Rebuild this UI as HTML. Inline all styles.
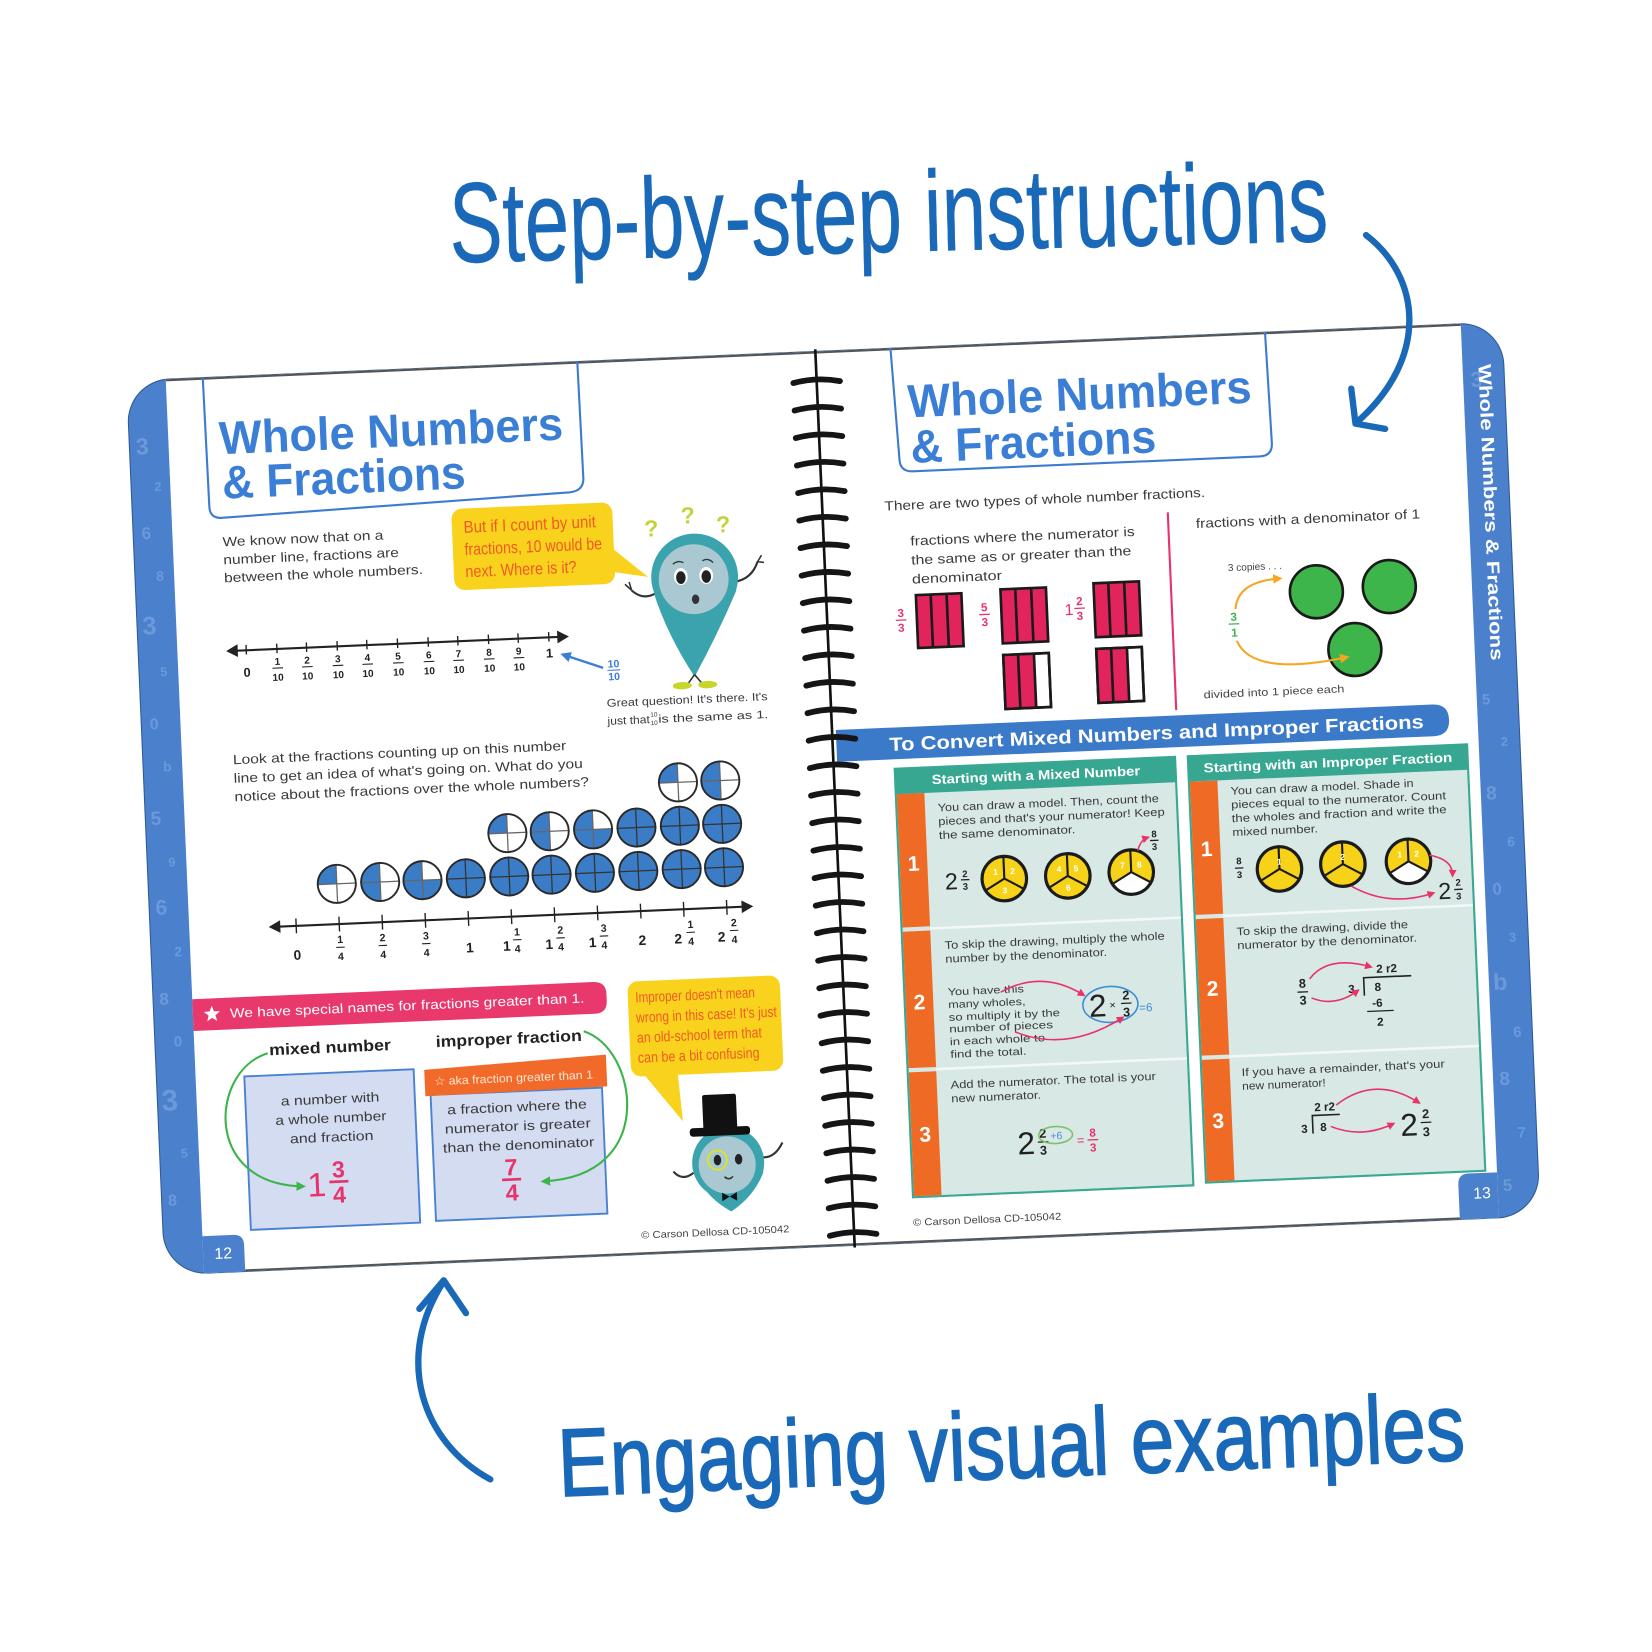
<!DOCTYPE html>
<html><head><meta charset="utf-8">
<style>
html,body{margin:0;padding:0;background:#fff;}
body{width:1652px;height:1652px;overflow:hidden;}
svg{display:block;}
text{font-family:"Liberation Sans",Arial,sans-serif;}
</style></head><body>
<svg width="1652" height="1652" viewBox="0 0 1560 1560" xmlns="http://www.w3.org/2000/svg" xmlns:xlink="http://www.w3.org/1999/xlink">
<defs>
<marker id="ag" viewBox="0 0 10 10" refX="7" refY="5" markerWidth="4.5" markerHeight="4.5" orient="auto"><path d="M0,0 L10,5 L0,10 Z" fill="#3cb44b"/></marker>
<marker id="ap" viewBox="0 0 10 10" refX="7" refY="5" markerWidth="5" markerHeight="5" orient="auto"><path d="M0,0 L10,5 L0,10 Z" fill="#e8336a"/></marker>
<marker id="ao" viewBox="0 0 10 10" refX="7" refY="5" markerWidth="4.5" markerHeight="4.5" orient="auto"><path d="M0,0 L10,5 L0,10 Z" fill="#f5a623"/></marker>
<marker id="ab" viewBox="0 0 10 10" refX="7" refY="5" markerWidth="4.5" markerHeight="4.5" orient="auto"><path d="M0,0 L10,5 L0,10 Z" fill="#3b7ed6"/></marker>
<g id="c1"><circle r="18" fill="#fff"/><path d="M0,0 L-18,0 A18,18 0 0 1 0,-18 Z" fill="#3b7cc6"/><path d="M-18,0H18M0,-18V18" stroke="#666" stroke-width="1.2"/><circle r="18" fill="none" stroke="#2a2a2a" stroke-width="1.8"/></g>
<g id="c2"><circle r="18" fill="#fff"/><path d="M0,-18 A18,18 0 0 0 0,18 Z" fill="#3b7cc6"/><path d="M-18,0H18M0,-18V18" stroke="#666" stroke-width="1.2"/><circle r="18" fill="none" stroke="#2a2a2a" stroke-width="1.8"/></g>
<g id="c3"><circle r="18" fill="#fff"/><path d="M0,0 L0,-18 A18,18 0 1 0 18,0 Z" fill="#3b7cc6"/><path d="M-18,0H18M0,-18V18" stroke="#666" stroke-width="1.2"/><circle r="18" fill="none" stroke="#2a2a2a" stroke-width="1.8"/></g>
<g id="c4"><circle r="18" fill="#3b7cc6"/><path d="M-18,0H18M0,-18V18" stroke="#333" stroke-width="1.2"/><circle r="18" fill="none" stroke="#2a2a2a" stroke-width="1.8"/></g>
<g id="y3"><circle r="21" fill="#f6d318"/><path d="M0,0V-21M0,0L-18.2,10.5M0,0L18.2,10.5" stroke="#1b1b1b" stroke-width="2"/><circle r="21" fill="none" stroke="#1b1b1b" stroke-width="3"/></g>
<g id="y2"><circle r="21" fill="#f6d318"/><path d="M0,0 L18.2,10.5 A21,21 0 0 1 -18.2,10.5Z" fill="#fff"/><path d="M0,0V-21M0,0L-18.2,10.5M0,0L18.2,10.5" stroke="#1b1b1b" stroke-width="2"/><circle r="21" fill="none" stroke="#1b1b1b" stroke-width="3"/></g>
<path id="coil" d="M-22,2 Q0,-3 22,2" fill="none" stroke="#151515" stroke-width="5.5" stroke-linecap="round"/>
</defs>

<!-- annotations text -->
<text x="425" y="248" font-size="108" fill="#1a68b8" stroke="#1a68b8" stroke-width="0.4" textLength="830" lengthAdjust="spacingAndGlyphs" transform="rotate(-1.4 425 248)">Step-by-step instructions</text>
<text x="528" y="1413" font-size="91" fill="#1a68b8" stroke="#1a68b8" stroke-width="1.4" textLength="857" lengthAdjust="spacingAndGlyphs" transform="rotate(-2.3 528 1413)">Engaging visual examples</text>

<!-- BOOK -->
<g transform="translate(137,331.5) rotate(-2.45 650 422.5)">
<rect x="0" y="0" width="1300" height="845" rx="40" fill="#4a80cc" stroke="#2f5a93" stroke-width="1"/>
<g fill="#86aee6" opacity="0.55" font-weight="bold">
<text x="6" y="70" font-size="22">3</text><text x="22" y="105" font-size="12">2</text><text x="8" y="150" font-size="16">6</text><text x="20" y="190" font-size="13">8</text><text x="5" y="240" font-size="24">3</text><text x="20" y="280" font-size="12">5</text><text x="8" y="330" font-size="15">0</text><text x="19" y="370" font-size="13">b</text><text x="5" y="420" font-size="18">5</text><text x="20" y="460" font-size="12">9</text><text x="6" y="505" font-size="20">6</text><text x="22" y="545" font-size="13">2</text><text x="6" y="590" font-size="16">8</text><text x="18" y="630" font-size="14">0</text><text x="4" y="690" font-size="28">3</text><text x="20" y="735" font-size="12">5</text><text x="6" y="780" font-size="15">8</text>
<text x="1268" y="60" font-size="20">3</text><text x="1266" y="360" font-size="14">5</text><text x="1282" y="400" font-size="12">2</text><text x="1266" y="450" font-size="18">8</text><text x="1284" y="495" font-size="13">6</text><text x="1268" y="540" font-size="16">0</text><text x="1282" y="585" font-size="12">3</text><text x="1265" y="630" font-size="22">b</text><text x="1282" y="675" font-size="14">6</text><text x="1267" y="720" font-size="18">8</text><text x="1282" y="770" font-size="14">7</text><text x="1266" y="820" font-size="16">5</text>
</g>
<rect x="37" y="0" width="1224" height="845" fill="#fff"/>
<path d="M37,810 H66 Q76,810 76,820 V845 H37Z" fill="#4a80cc"/>
<path d="M1261,802 H1234 Q1224,802 1224,812 V845 H1261Z" fill="#4a80cc"/>
<line x1="37" y1="1" x2="1261" y2="1" stroke="#555" stroke-width="2"/>
<line x1="76" y1="844" x2="1224" y2="844" stroke="#555" stroke-width="2"/>
<text x="56" y="832" font-size="15" fill="#fff" text-anchor="middle">12</text>
<text x="1246" y="826" font-size="15" fill="#fff" text-anchor="middle">13</text>
<text transform="translate(1276,39) rotate(90)" font-size="17" font-weight="bold" fill="#fff" textLength="280" lengthAdjust="spacingAndGlyphs">Whole Numbers &amp; Fractions</text>

<!-- LEFT PAGE -->
<path d="M72,0 L73,122 Q73,134 86,133 L414,123 Q427,122 427,110 L426,0" fill="none" stroke="#3d7bd3" stroke-width="2"/>
<g font-weight="bold" fill="#3b7ed6" font-size="44">
<text x="85" y="73" textLength="325" lengthAdjust="spacingAndGlyphs">Whole Numbers</text>
<text x="86" y="115" textLength="230" lengthAdjust="spacingAndGlyphs">&amp; Fractions</text>
</g>
<g font-size="12.5" fill="#3a3a3a">
<text x="84" y="160" textLength="152" lengthAdjust="spacingAndGlyphs">We know now that on a</text>
<text x="84" y="177" textLength="166" lengthAdjust="spacingAndGlyphs">number line, fractions are</text>
<text x="84" y="194" textLength="188" lengthAdjust="spacingAndGlyphs">between the whole numbers.</text>
</g>
<!-- bubble 1 -->
<rect x="301" y="134" width="152" height="77" rx="10" fill="#f8d21c"/>
<polygon points="452,178 452,200 484,206" fill="#f8d21c"/>
<g font-size="16" fill="#f15a24">
<text x="312" y="157" textLength="125" lengthAdjust="spacingAndGlyphs">But if I count by unit</text>
<text x="312" y="178" textLength="130" lengthAdjust="spacingAndGlyphs">fractions, 10 would be</text>
<text x="312" y="199" textLength="105" lengthAdjust="spacingAndGlyphs">next. Where is it?</text>
</g>
<!-- character 1 -->
<g>
<path d="M468,218 Q478,228 490,222" fill="none" stroke="#333" stroke-width="2"/>
<path d="M462,212 L468,218 M466,210 L468,218" stroke="#333" stroke-width="1.5"/>
<path d="M566,214 Q582,212 588,196" fill="none" stroke="#333" stroke-width="2"/>
<path d="M588,196 L592,190 M588,196 L594,197" stroke="#333" stroke-width="1.5"/>
<path d="M489,222 Q500,262 524,302 Q548,262 567,222 Z" fill="#3aa3ae"/>
<circle cx="528" cy="208" r="41" fill="#3aa3ae"/>
<circle cx="527" cy="210" r="33" fill="#a9c8d1"/>
<ellipse cx="515" cy="207" rx="6.5" ry="8" fill="#fff"/><ellipse cx="515" cy="208" rx="4.5" ry="6" fill="#222"/>
<ellipse cx="539" cy="207" rx="6.5" ry="8" fill="#fff"/><ellipse cx="539" cy="208" rx="4.5" ry="6" fill="#222"/>
<path d="M508,195 Q513,191 518,194 M536,193 Q541,190 546,195" fill="none" stroke="#333" stroke-width="1.3"/>
<ellipse cx="528" cy="229" rx="3.5" ry="4.5" fill="#333"/>
<path d="M524,300 L517,309 M524,300 L531,309" stroke="#333" stroke-width="1.5"/>
<ellipse cx="512" cy="310" rx="9" ry="3.5" fill="#c8d62a"/><ellipse cx="536" cy="310" rx="9" ry="3.5" fill="#c8d62a"/>
<g font-size="22" font-weight="bold" fill="#c5d33a" text-anchor="middle">
<text x="489" y="168">?</text><text x="524" y="157">?</text><text x="557" y="167">?</text>
</g>
</g>
<!-- number line 1 -->
<g stroke="#222" stroke-width="2">
<line x1="88" y1="259" x2="400" y2="259"/>
<path d="M102,254V263M131,254V263M159,254V263M188,254V263M216,254V263M245,254V263M274,254V263M302,254V263M331,254V263M359,254V263M388,254V263" stroke-width="1.3"/>
</g>
<polygon points="83,259 94,253 94,265" fill="#222"/><polygon points="407,259 396,253 396,265" fill="#222"/>
<g font-size="9.5" font-weight="bold" fill="#222" text-anchor="middle">
<text x="102" y="284" font-size="12">0</text>
<text x="131" y="274">1</text><text x="159" y="274">2</text><text x="188" y="274">3</text><text x="216" y="274">4</text><text x="245" y="274">5</text><text x="274" y="274">6</text><text x="302" y="274">7</text><text x="331" y="274">8</text><text x="359" y="274">9</text>
<text x="131" y="289">10</text><text x="159" y="289">10</text><text x="188" y="289">10</text><text x="216" y="289">10</text><text x="245" y="289">10</text><text x="274" y="289">10</text><text x="302" y="289">10</text><text x="331" y="289">10</text><text x="359" y="289">10</text>
<text x="388" y="278" font-size="12">1</text>
</g>
<path d="M126,277H136M154,277H164M183,277H193M211,277H221M240,277H250M269,277H279M297,277H307M326,277H336M354,277H364" stroke="#222" stroke-width="1"/>
<line x1="438" y1="290" x2="401" y2="276" stroke="#3b7ed6" stroke-width="2.2" marker-end="url(#ab)"/>
<g font-size="10" font-weight="bold" fill="#3b7ed6" text-anchor="middle">
<text x="448" y="290">10</text><text x="448" y="302">10</text>
</g>
<line x1="442" y1="292.5" x2="454" y2="292.5" stroke="#3b7ed6" stroke-width="1"/>
<g font-size="10.5" fill="#3a3a3a">
<text x="440" y="327" textLength="152" lengthAdjust="spacingAndGlyphs">Great question! It's there. It's</text>
<text x="440" y="344" textLength="40" lengthAdjust="spacingAndGlyphs">just that</text>
<text x="488" y="344" textLength="104" lengthAdjust="spacingAndGlyphs">is the same as 1.</text>
<text x="484" y="338" font-size="6" text-anchor="middle">10</text><text x="484" y="346" font-size="6" text-anchor="middle">10</text>
</g>
<!-- paragraph 2 -->
<g font-size="12.5" fill="#3a3a3a">
<text x="85" y="366" textLength="315" lengthAdjust="spacingAndGlyphs">Look at the fractions counting up on this number</text>
<text x="85" y="383.5" textLength="330" lengthAdjust="spacingAndGlyphs">line to get an idea of what's going on. What do you</text>
<text x="85" y="401" textLength="335" lengthAdjust="spacingAndGlyphs">notice about the fractions over the whole numbers?</text>
</g>
<!-- circles -->
<use xlink:href="#c1" x="178" y="483"/><use xlink:href="#c2" x="219" y="483"/><use xlink:href="#c3" x="259" y="483"/><use xlink:href="#c4" x="300" y="483"/><use xlink:href="#c4" x="341" y="483"/><use xlink:href="#c4" x="381" y="483"/><use xlink:href="#c4" x="422" y="483"/><use xlink:href="#c4" x="463" y="483"/><use xlink:href="#c4" x="504" y="483"/><use xlink:href="#c4" x="544" y="483"/>
<use xlink:href="#c1" x="341" y="442"/><use xlink:href="#c2" x="381" y="442"/><use xlink:href="#c3" x="422" y="442"/><use xlink:href="#c4" x="463" y="442"/><use xlink:href="#c4" x="504" y="442"/><use xlink:href="#c4" x="544" y="442"/>
<use xlink:href="#c1" x="504" y="401"/><use xlink:href="#c2" x="544" y="401"/>
<!-- number line 2 -->
<line x1="118" y1="521" x2="564" y2="521" stroke="#222" stroke-width="2"/>
<polygon points="112,521 123,515 123,527" fill="#222"/><polygon points="570,521 559,515 559,527" fill="#222"/>
<path d="M138,514V528M178.7,514V528M219.4,514V528M260.1,514V528M300.8,514V528M341.5,514V528M382.2,514V528M422.9,514V528M463.6,514V528M504.3,514V528M545,514V528" stroke="#222" stroke-width="1.3"/>
<g font-weight="bold" fill="#222" text-anchor="middle">
<g font-size="13"><text x="138" y="553">0</text><text x="301" y="553">1</text><text x="336" y="553">1</text><text x="376" y="553">1</text><text x="417" y="553">1</text><text x="464" y="553">2</text><text x="498" y="553">2</text><text x="539" y="553">2</text></g>
<g font-size="10"><text x="179" y="539">1</text><text x="219" y="539">2</text><text x="260" y="539">3</text><text x="346" y="539">1</text><text x="387" y="539">2</text><text x="428" y="539">3</text><text x="510" y="539">1</text><text x="551" y="539">2</text>
<text x="179" y="555">4</text><text x="219" y="555">4</text><text x="260" y="555">4</text><text x="346" y="555">4</text><text x="387" y="555">4</text><text x="428" y="555">4</text><text x="510" y="555">4</text><text x="551" y="555">4</text></g>
</g>
<path d="M175,543H183M215,543H223M256,543H264M342,543H350M383,543H391M424,543H432M506,543H514M547,543H555" stroke="#222" stroke-width="1"/>
<!-- pink banner -->
<path d="M37,586 H416 Q428,586 428,598 V604 Q428,616 416,616 H37Z" fill="#e8386c"/>
<polygon points="55,593 57,598.2 62.6,598.5 58.2,602.1 59.7,607.5 55,604.4 50.3,607.5 51.8,602.1 47.4,598.5 53,598.2" fill="#fff"/>
<text x="72" y="605" font-size="12.5" fill="#fff" textLength="335" lengthAdjust="spacingAndGlyphs">We have special names for fractions greater than 1.</text>
<g font-size="15" font-weight="bold" fill="#222" text-anchor="middle">
<text x="165" y="642" textLength="115" lengthAdjust="spacingAndGlyphs">mixed number</text>
<text x="334" y="641" textLength="138" lengthAdjust="spacingAndGlyphs">improper fraction</text>
</g>
<!-- boxes -->
<rect x="83" y="661" width="160" height="145" fill="#d4dcf2" stroke="#4a82d2" stroke-width="1.8"/>
<rect x="258" y="686" width="162" height="119" fill="#d4dcf2" stroke="#4a82d2" stroke-width="1.8"/>
<polygon points="253,662 425,655 425,685 253,687" fill="#f26a2a"/>
<text x="262" y="677" font-size="11" fill="#ffe6d6" textLength="150" lengthAdjust="spacingAndGlyphs">☆ aka fraction greater than 1</text>
<g font-size="12.5" fill="#3a3a3a" text-anchor="middle">
<text x="163" y="690" textLength="93" lengthAdjust="spacingAndGlyphs">a number with</text>
<text x="163" y="708" textLength="105" lengthAdjust="spacingAndGlyphs">a whole number</text>
<text x="163" y="726" textLength="79" lengthAdjust="spacingAndGlyphs">and fraction</text>
<text x="339" y="705" textLength="132" lengthAdjust="spacingAndGlyphs">a fraction where the</text>
<text x="339" y="723" textLength="138" lengthAdjust="spacingAndGlyphs">numerator is greater</text>
<text x="339" y="741" textLength="143" lengthAdjust="spacingAndGlyphs">than the denominator</text>
</g>
<g fill="#e8336a" text-anchor="middle">
<text x="147" y="777" font-size="32">1</text>
<text x="168" y="760" font-size="22" font-weight="bold">3</text><text x="168" y="784" font-size="22" font-weight="bold">4</text>
<text x="331" y="765" font-size="22" font-weight="bold">7</text><text x="331" y="789" font-size="22" font-weight="bold">4</text>
</g>
<path d="M159,764H177M322,769H340" stroke="#e8336a" stroke-width="2.5"/>
<path d="M106,640 C50,655 40,762 134,767" fill="none" stroke="#3cb44b" stroke-width="2" marker-end="url(#ag)"/>
<path d="M405,632 C455,650 470,772 361,772" fill="none" stroke="#3cb44b" stroke-width="2" marker-end="url(#ag)"/>
<!-- bubble 2 -->
<rect x="448" y="587" width="144" height="90" rx="10" fill="#f8d21c"/>
<polygon points="460,675 492,675 495,721" fill="#f8d21c"/>
<g font-size="14" fill="#f15a24">
<text x="455" y="607" textLength="113" lengthAdjust="spacingAndGlyphs">Improper doesn't mean</text>
<text x="455" y="626" textLength="133" lengthAdjust="spacingAndGlyphs">wrong in this case! It's just</text>
<text x="455" y="645" textLength="118" lengthAdjust="spacingAndGlyphs">an old-school term that</text>
<text x="455" y="664" textLength="115" lengthAdjust="spacingAndGlyphs">can be a bit confusing</text>
</g>
<!-- character 2 -->
<g>
<path d="M503,770 Q492,778 484,768" fill="none" stroke="#333" stroke-width="2"/>
<path d="M568,758 Q580,760 588,745" fill="none" stroke="#333" stroke-width="2"/>
<path d="M505,772 Q515,795 537,808 Q559,795 569,772 Z" fill="#3aa3ae"/>
<circle cx="536" cy="762" r="34" fill="#3aa3ae"/>
<circle cx="535" cy="764" r="27" fill="#a9c8d1"/>
<circle cx="526" cy="759" r="9" fill="none" stroke="#d8e03a" stroke-width="2"/>
<ellipse cx="526" cy="759" rx="3.5" ry="5" fill="#222"/><ellipse cx="546" cy="759" rx="3.5" ry="5" fill="#222"/>
<path d="M532,775 Q536,779 540,775" fill="none" stroke="#333" stroke-width="1.5"/>
<path d="M529,790 L536,794 L529,798Z M543,790 L536,794 L543,798Z" fill="#111"/>
<rect x="514" y="697" width="32" height="34" rx="2" fill="#111"/>
<rect x="501" y="728" width="57" height="8" rx="3" fill="#111"/>
</g>
<text x="521" y="830" font-size="9.5" fill="#444" text-anchor="middle" textLength="140" lengthAdjust="spacingAndGlyphs">© Carson Dellosa CD-105042</text>

<!-- RIGHT PAGE -->
<path d="M722,0 L726,105 Q726,117 738,117 L1066,117 Q1078,117 1078,105 L1076,0" fill="none" stroke="#3d7bd3" stroke-width="2"/>
<g font-weight="bold" fill="#3b7ed6" font-size="44">
<text x="736" y="66" textLength="325" lengthAdjust="spacingAndGlyphs">Whole Numbers</text>
<text x="737" y="109" textLength="232" lengthAdjust="spacingAndGlyphs">&amp; Fractions</text>
</g>
<g font-size="12.5" fill="#3a3a3a">
<text x="710" y="153" textLength="303" lengthAdjust="spacingAndGlyphs">There are two types of whole number fractions.</text>
<text x="733" y="187" textLength="212" lengthAdjust="spacingAndGlyphs">fractions where the numerator is</text>
<text x="733" y="205" textLength="208" lengthAdjust="spacingAndGlyphs">the same as or greater than the</text>
<text x="733" y="223" textLength="85" lengthAdjust="spacingAndGlyphs">denominator</text>
<text x="1003" y="182" textLength="212" lengthAdjust="spacingAndGlyphs">fractions with a denominator of 1</text>
</g>
<line x1="977" y1="166" x2="977" y2="353" stroke="#e8336a" stroke-width="2"/>
<!-- bar models -->
<g stroke="#1a1a1a" stroke-width="2.5">
<rect x="736" y="234" width="43" height="50" fill="#e2245d"/>
<rect x="816" y="232" width="43" height="51" fill="#e2245d"/>
<rect x="816" y="294" width="43" height="51" fill="#fff"/>
<rect x="817" y="295" width="28" height="49" fill="#e2245d" stroke="none"/>
<rect x="816" y="294" width="43" height="51" fill="none"/>
<rect x="904" y="230" width="43" height="51" fill="#e2245d"/>
<rect x="904" y="292" width="43" height="51" fill="#fff"/>
<rect x="905" y="293" width="28" height="49" fill="#e2245d" stroke="none"/>
<rect x="904" y="292" width="43" height="51" fill="none"/>
<path d="M750,234V284M765,234V284M830,232V283M845,232V283M830,294V345M845,294V345M918,230V281M933,230V281M918,292V343M933,292V343"/>
</g>
<g fill="#e8336a" font-weight="bold" font-size="11" text-anchor="middle">
<text x="721" y="254">3</text><text x="721" y="268">3</text>
<text x="800" y="252">5</text><text x="800" y="266">3</text>
<text x="880" y="259" font-size="15" font-weight="normal">1</text>
<text x="890" y="250">2</text><text x="890" y="264">3</text>
</g>
<path d="M716,257H726M795,255H805M885,253H895" stroke="#e8336a" stroke-width="1.2"/>
<!-- green circles -->
<g fill="#3db54a" stroke="#1a1a1a" stroke-width="2.5">
<circle cx="1114" cy="247" r="25"/><circle cx="1183" cy="245" r="25"/><circle cx="1148" cy="303" r="25"/>
</g>
<text x="1057" y="224" font-size="9.5" fill="#444" text-anchor="middle">3 copies . . .</text>
<g fill="#3cb44b" font-weight="bold" font-size="11" text-anchor="middle"><text x="1035" y="271">3</text><text x="1035" y="286">1</text></g>
<line x1="1030" y1="274" x2="1040" y2="274" stroke="#3cb44b" stroke-width="1.2"/>
<path d="M1037,260 Q1040,234 1080,233" fill="none" stroke="#f5a623" stroke-width="2" marker-end="url(#ao)"/>
<path d="M1037,290 Q1050,325 1140,310" fill="none" stroke="#f5a623" stroke-width="2" marker-end="url(#ao)"/>
<text x="1070" y="343" font-size="10" fill="#444" text-anchor="middle" textLength="133" lengthAdjust="spacingAndGlyphs">divided into 1 piece each</text>
<!-- blue banner -->
<path d="M655,358 H1219 Q1234,358 1234,373 Q1234,388 1219,388 H655Z" fill="#3b79c9"/>
<text x="705" y="380" font-size="18" font-weight="bold" fill="#fff" textLength="505" lengthAdjust="spacingAndGlyphs">To Convert Mixed Numbers and Improper Fractions</text>
<!-- panels -->
<g>
<rect x="709" y="397" width="265" height="405" fill="#d7e8e5" stroke="#3aa893" stroke-width="2"/>
<rect x="709" y="397" width="265" height="24" fill="#37a791"/>
<rect x="710" y="421" width="26" height="126" fill="#ef6a24"/>
<rect x="710" y="551" width="26" height="129" fill="#ef6a24"/>
<rect x="710" y="684" width="26" height="117" fill="#ef6a24"/>
<path d="M736,549H973M736,682H973" stroke="#f2f8f7" stroke-width="2.5"/>
<rect x="986" y="397" width="264" height="403" fill="#d7e8e5" stroke="#3aa893" stroke-width="2"/>
<rect x="986" y="397" width="264" height="24" fill="#37a791"/>
<rect x="987" y="421" width="26" height="126" fill="#ef6a24"/>
<rect x="987" y="551" width="26" height="129" fill="#ef6a24"/>
<rect x="987" y="684" width="26" height="115" fill="#ef6a24"/>
<path d="M1013,549H1249M1013,682H1249" stroke="#f2f8f7" stroke-width="2.5"/>
</g>
<g font-weight="bold" fill="#fff" text-anchor="middle">
<text x="842" y="413" font-size="12.5" textLength="197" lengthAdjust="spacingAndGlyphs">Starting with a Mixed Number</text>
<text x="1118" y="413" font-size="12.5" textLength="235" lengthAdjust="spacingAndGlyphs">Starting with an Improper Fraction</text>
<g font-size="20"><text x="723" y="494">1</text><text x="723" y="625">2</text><text x="723" y="750">3</text><text x="1000" y="492">1</text><text x="1000" y="624">2</text><text x="1000" y="749">3</text></g>
</g>
<g font-size="10.5" fill="#3a3a3a">
<text x="748" y="439" textLength="209" lengthAdjust="spacingAndGlyphs">You can draw a model. Then, count the</text>
<text x="748" y="452" textLength="214" lengthAdjust="spacingAndGlyphs">pieces and that's your numerator! Keep</text>
<text x="748" y="465" textLength="129" lengthAdjust="spacingAndGlyphs">the same denominator.</text>
<text x="749" y="569" textLength="208" lengthAdjust="spacingAndGlyphs">To skip the drawing, multiply the whole</text>
<text x="749" y="582" textLength="153" lengthAdjust="spacingAndGlyphs">number by the denominator.</text>
<g font-size="9.8">
<text x="750" y="613" textLength="72" lengthAdjust="spacingAndGlyphs">You have this</text>
<text x="750" y="625" textLength="73" lengthAdjust="spacingAndGlyphs">many wholes,</text>
<text x="750" y="637" textLength="105" lengthAdjust="spacingAndGlyphs">so multiply it by the</text>
<text x="750" y="648" textLength="98" lengthAdjust="spacingAndGlyphs">number of pieces</text>
<text x="750" y="660" textLength="90" lengthAdjust="spacingAndGlyphs">in each whole to</text>
<text x="750" y="672" textLength="72" lengthAdjust="spacingAndGlyphs">find the total.</text>
</g>
<text x="749" y="701" textLength="194" lengthAdjust="spacingAndGlyphs">Add the numerator. The total is your</text>
<text x="749" y="714" textLength="85" lengthAdjust="spacingAndGlyphs">new numerator.</text>
<text x="1025" y="435" textLength="173" lengthAdjust="spacingAndGlyphs">You can draw a model. Shade in</text>
<text x="1025" y="448" textLength="203" lengthAdjust="spacingAndGlyphs">pieces equal to the numerator. Count</text>
<text x="1025" y="461" textLength="203" lengthAdjust="spacingAndGlyphs">the wholes and fraction and write the</text>
<text x="1025" y="474" textLength="81" lengthAdjust="spacingAndGlyphs">mixed number.</text>
<text x="1025" y="568" textLength="162" lengthAdjust="spacingAndGlyphs">To skip the drawing, divide the</text>
<text x="1025" y="581" textLength="170" lengthAdjust="spacingAndGlyphs">numerator by the denominator.</text>
<text x="1024" y="701" textLength="192" lengthAdjust="spacingAndGlyphs">If you have a remainder, that's your</text>
<text x="1024" y="714" textLength="79" lengthAdjust="spacingAndGlyphs">new numerator!</text>
</g>
<!-- yellow circles -->
<use xlink:href="#y3" x="808" y="505"/><use xlink:href="#y3" x="868" y="505"/><use xlink:href="#y2" x="928" y="504"/>
<use xlink:href="#y3" x="1068" y="507"/><use xlink:href="#y3" x="1128" y="505"/><use xlink:href="#y2" x="1190" y="505"/>
<g font-size="8" font-weight="bold" fill="#fff" text-anchor="middle">
<text x="800" y="501">1</text><text x="816" y="501">2</text><text x="808" y="519">3</text>
<text x="860" y="501">4</text><text x="876" y="501">5</text><text x="868" y="519">6</text>
<text x="920" y="500">7</text><text x="936" y="500">8</text>
<text x="1068" y="503">1</text><text x="1128" y="501">2</text><text x="1182" y="501">1</text><text x="1198" y="501">2</text>
</g>
<!-- formulas -->
<g fill="#222" text-anchor="middle">
<text x="758" y="513" font-size="22">2</text>
<g font-size="9" font-weight="bold"><text x="771" y="502">2</text><text x="771" y="514">3</text>
<text x="951" y="472">8</text><text x="951" y="484">3</text>
<text x="1030" y="501">8</text><text x="1030" y="514">3</text>
<text x="1236" y="530">2</text><text x="1236" y="543">3</text></g>
<text x="1223" y="542" font-size="22">2</text>
<text x="891" y="639" font-size="30">2</text>
<text x="905" y="632" font-size="10">×</text>
<g font-size="12" font-weight="bold"><text x="918" y="624">2</text><text x="918" y="640">3</text>
<text x="834" y="751">2</text><text x="834" y="767">3</text>
<text x="1085" y="620">8</text><text x="1085" y="636">3</text>
<text x="1196" y="748">2</text><text x="1196" y="765">3</text></g>
<text x="818" y="766" font-size="30">2</text>
<text x="1180" y="764" font-size="30">2</text>
<g font-size="11" font-weight="bold">
<text x="1165" y="609">2 r2</text><text x="1131" y="627">3</text><text x="1156" y="626">8</text><text x="1155" y="641">-6</text><text x="1157" y="659">2</text>
<text x="1101" y="737">2 r2</text><text x="1081" y="757">3</text><text x="1099" y="756">8</text>
</g>
</g>
<path d="M767,504.5H775M947,475H955M1026,504.5H1034M1232,533.5H1240M913,627.5H923M829,755H839M1080,624H1090M1191,752H1201M1145,645H1170" stroke="#222" stroke-width="1.2"/>
<path d="M1188,613 H1143 V630 M1115,741 H1089 V758" fill="none" stroke="#222" stroke-width="1.5"/>
<text x="930" y="636" font-size="11" fill="#3b8ed6">=6</text>
<ellipse cx="903" cy="628" rx="26" ry="17" fill="none" stroke="#3b8ed6" stroke-width="1.5"/>
<ellipse cx="846" cy="749" rx="16" ry="8" fill="none" stroke="#7cc36a" stroke-width="1.5"/>
<text x="841" y="753" font-size="10" fill="#4a90d9">+6</text>
<text x="866" y="759" font-size="12" fill="#e8336a">=</text>
<g fill="#e8336a" font-size="11" font-weight="bold" text-anchor="middle"><text x="881" y="752">8</text><text x="881" y="766">3</text></g>
<line x1="876" y1="755" x2="886" y2="755" stroke="#e8336a" stroke-width="1.2"/>
<g fill="none" stroke="#e8336a" stroke-width="1.5" marker-end="url(#ap)">
<path d="M935,484 Q938,474 945,472"/>
<path d="M800,612 Q840,592 878,618"/>
<path d="M812,650 Q860,672 914,641"/>
<path d="M1135,526 Q1170,548 1212,536"/>
<path d="M1210,500 Q1232,505 1231,520"/>
<path d="M1092,612 Q1110,590 1150,603"/>
<path d="M1093,630 Q1115,640 1137,625"/>
<path d="M1112,732 Q1150,705 1190,733"/>
<path d="M1106,752 Q1135,765 1165,752"/>
</g>
<text x="778" y="829" font-size="9.5" fill="#444" text-anchor="middle" textLength="140" lengthAdjust="spacingAndGlyphs">© Carson Dellosa CD-105042</text>

<!-- spiral -->
<line x1="651" y1="-2" x2="652" y2="847" stroke="#111" stroke-width="2.5"/>
<g>
<use xlink:href="#coil" x="651" y="27"/><use xlink:href="#coil" x="651" y="53"/><use xlink:href="#coil" x="651" y="79"/><use xlink:href="#coil" x="651" y="105"/><use xlink:href="#coil" x="651" y="131"/><use xlink:href="#coil" x="651" y="157"/><use xlink:href="#coil" x="651" y="183"/><use xlink:href="#coil" x="651" y="209"/>
<use xlink:href="#coil" x="651" y="235"/><use xlink:href="#coil" x="651" y="261"/><use xlink:href="#coil" x="651" y="287"/><use xlink:href="#coil" x="651" y="313"/><use xlink:href="#coil" x="651" y="339"/><use xlink:href="#coil" x="651" y="365"/><use xlink:href="#coil" x="651" y="391"/><use xlink:href="#coil" x="651" y="417"/>
<use xlink:href="#coil" x="651" y="443"/><use xlink:href="#coil" x="651" y="469"/><use xlink:href="#coil" x="651" y="495"/><use xlink:href="#coil" x="651" y="521"/><use xlink:href="#coil" x="651" y="547"/><use xlink:href="#coil" x="651" y="573"/><use xlink:href="#coil" x="651" y="599"/><use xlink:href="#coil" x="651" y="625"/>
<use xlink:href="#coil" x="651" y="651"/><use xlink:href="#coil" x="651" y="677"/><use xlink:href="#coil" x="651" y="703"/><use xlink:href="#coil" x="651" y="729"/><use xlink:href="#coil" x="651" y="755"/><use xlink:href="#coil" x="651" y="781"/><use xlink:href="#coil" x="651" y="807"/><use xlink:href="#coil" x="651" y="833"/>
</g>
</g>

<!-- annotation arrows (on top of book) -->
<g fill="none" stroke="#1a68b8" stroke-width="6" stroke-linecap="round" stroke-linejoin="round">
<path d="M1290,222 C1342,262 1350,338 1281,399"/>
<path d="M1276,367 L1280,400 L1308,405"/>
<path d="M463,1397 C398,1362 372,1282 419,1210"/>
<path d="M396,1236 L419,1209 L440,1240"/>
</g>
</svg>
</body></html>
